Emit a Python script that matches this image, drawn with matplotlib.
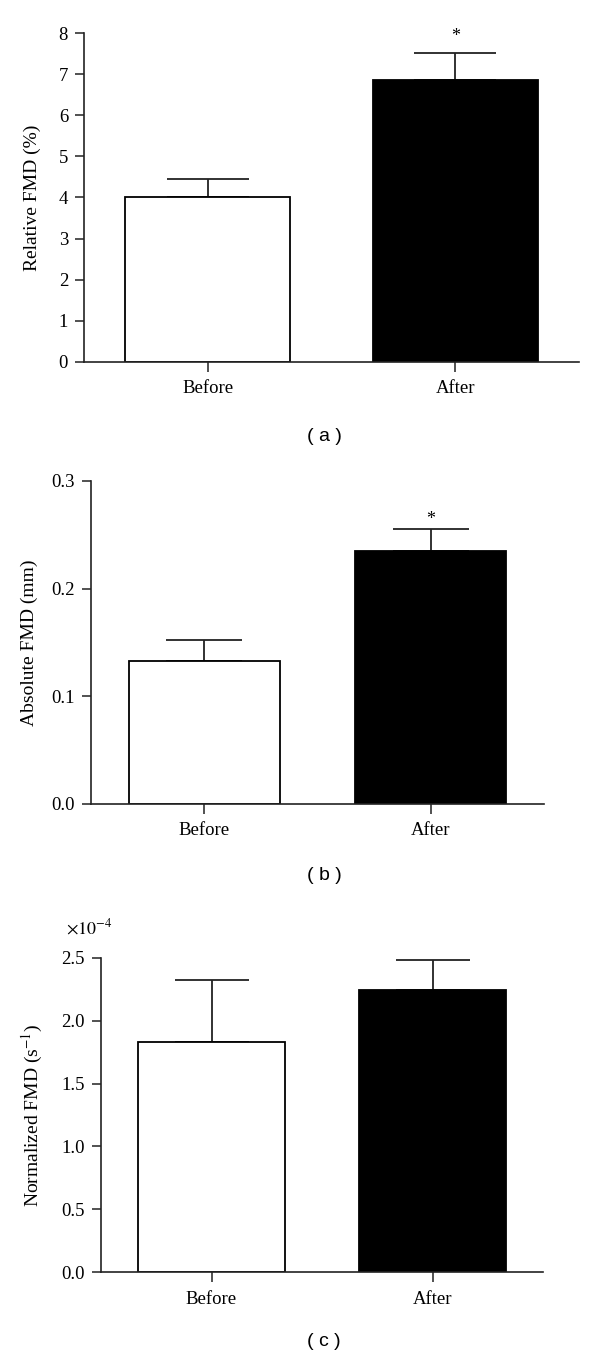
import matplotlib
matplotlib.use('Agg')
import matplotlib.pyplot as plt
from matplotlib.ticker import FuncFormatter, MultipleLocator

plt.rcParams['font.family'] = ['Liberation Serif', 'DejaVu Serif']
plt.rcParams['mathtext.fontset'] = 'stix'

# datos
groups = ['Before', 'After']
rel_fmd = [4.0, 6.86]
rel_err = [0.44, 0.66]
abs_fmd = [0.133, 0.235]
abs_err = [0.019, 0.020]
norm_fmd = [1.83e-4, 2.245e-4]
norm_err = [0.49e-4, 0.235e-4]
star_rel = 7.93
star_abs = 0.264

W, H, DPI = 600, 1359, 100
fig = plt.figure(figsize=(W / DPI, H / DPI), dpi=DPI)
line_c = '#222222'
bar_w = 0.667


def make_panel(px_left, px_right, px_top, px_bottom, vals, errs, ymax, step, fmt,
               ylabel, label_x, caption, caption_y, star=None):
    ax = fig.add_axes([px_left / W, 1 - px_bottom / H,
                       (px_right - px_left) / W, (px_bottom - px_top) / H])
    x = range(len(vals))
    bar_px = bar_w / 2.0 * (px_right - px_left)
    cap = bar_px / 4.0 * 72.0 / DPI
    ax.bar(x, vals, width=bar_w, color=['white', 'black'], edgecolor='black',
           linewidth=1.3, zorder=2,
           yerr=[[0] * len(vals), errs],
           error_kw=dict(ecolor=line_c, elinewidth=1.3, capsize=cap,
                         capthick=1.3, zorder=1))
    ax.set_xlim(-0.5, 1.5)
    ax.set_ylim(0, ymax)
    ax.yaxis.set_major_locator(MultipleLocator(step))
    ax.yaxis.set_major_formatter(FuncFormatter(fmt))
    ax.set_xticks(list(x))
    ax.set_xticklabels(groups)
    for s in ['top', 'right']:
        ax.spines[s].set_visible(False)
    for s in ['left', 'bottom']:
        ax.spines[s].set_linewidth(1.2)
        ax.spines[s].set_color(line_c)
    ax.tick_params(axis='y', length=6.5, width=1.1, color=line_c, pad=5,
                   labelsize=13.5, direction='out')
    ax.tick_params(axis='x', length=7.2, width=1.1, color=line_c, pad=6,
                   labelsize=13.5, direction='out')
    fig.text(label_x / W, 1 - (px_top + px_bottom) / 2.0 / H, ylabel,
             rotation=90, ha='center', va='center', fontsize=14)
    fig.text(324 / W, 1 - caption_y / H, caption, ha='center', va='center',
             fontsize=14, family=['Liberation Sans', 'DejaVu Sans'])
    if star is not None:
        ax.text(1, star, '*', ha='center', va='center', fontsize=13,
                clip_on=False)
    return ax


make_panel(84, 579, 33.3, 361.7, rel_fmd, rel_err, 8, 1,
           lambda v, p: '%d' % v, 'Relative FMD (%)', 32, '( a )', 437,
           star=star_rel)
make_panel(91, 544, 481, 804, abs_fmd, abs_err, 0.3, 0.1,
           lambda v, p: '%.1f' % v, 'Absolute FMD (mm)', 29, '( b )', 876,
           star=star_abs)
ax_c = make_panel(101, 543, 957.7, 1272.3, norm_fmd, norm_err, 2.5e-4, 0.5e-4,
                  lambda v, p: '%.1f' % (v / 1e-4), 'Normalized FMD (s$^{-1}$)',
                  32, '( c )', 1341)
fig.text(66 / W, 1 - 928 / H, r'$\times10^{-4}$', ha='left', va='center',
         fontsize=13)

fig.savefig('out.png', dpi=DPI)
